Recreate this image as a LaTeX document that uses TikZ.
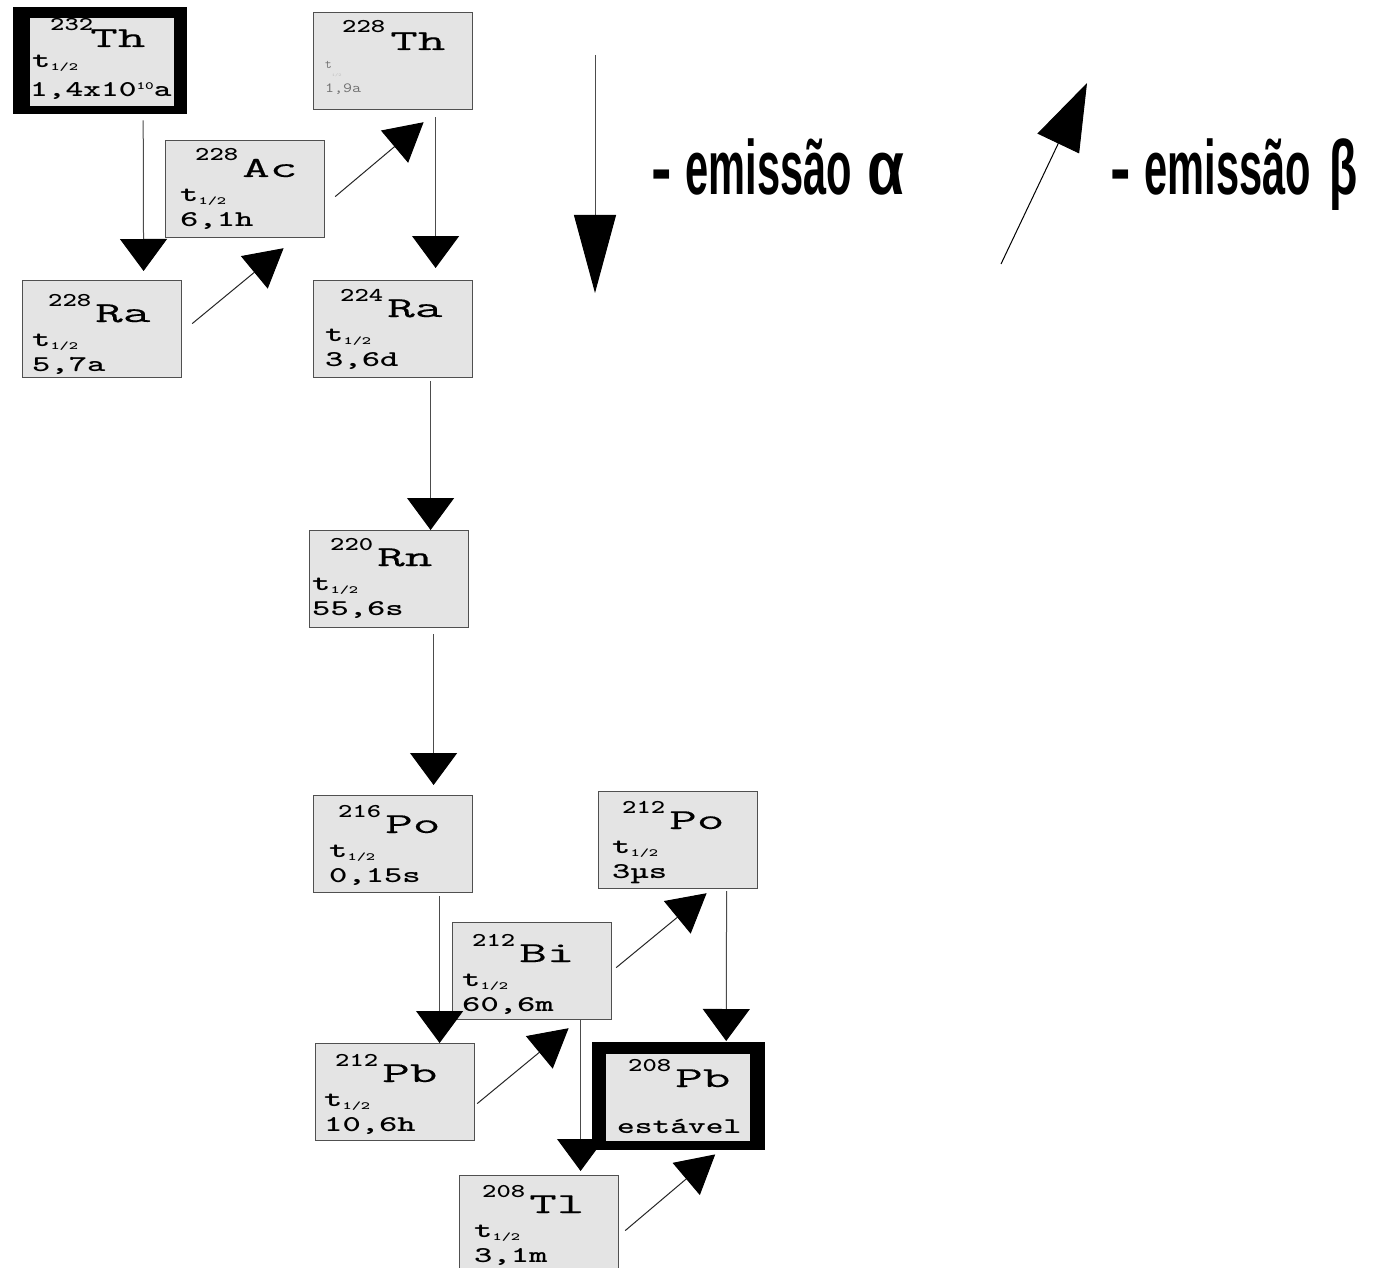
\documentclass[tikz,border=0pt]{standalone}
\usepackage{fontspec}
\usepackage{graphicx}
\usetikzlibrary{arrows.meta,calc}
\newfontfamily\legfont{Liberation Sans}
\newfontfamily\symfam{Latin Modern Mono}[FakeBold=0.25]
\definecolor{boxgray}{HTML}{E4E4E4}
\definecolor{edgegray}{HTML}{505050}
\definecolor{fadegray}{HTML}{707070}
\newcommand\massf{\fontsize{19.5}{19.5}\selectfont\ttfamily\bfseries}
\newcommand\symf{\fontsize{29}{29}\selectfont\symfam}
\newcommand\valf{\fontsize{22.5}{22.5}\selectfont\ttfamily\bfseries}
\newcommand\subf{\fontsize{11}{11}\selectfont\ttfamily\bfseries}
\newcommand\hx[2]{\scalebox{#1}[1]{#2}}
\newcommand\thalf{\hx{1.55}{\valf t}\raisebox{-3pt}{\hx{1.6}{\subf 1/2}}}
% #1 Greek letter, #2 its horizontal scale, #3 gap before it
\newcommand\legtext[3]{\legfont\bfseries\fontsize{77}{77}\selectfont
  \hx{0.8}{-}\kern14pt\hx{0.54}{emissão}\kern#3pt\hx{#2}{#1}}
\tikzset{
  nuc/.style={draw=edgegray, line width=1.2pt, fill=boxgray, inner sep=0pt,
    minimum width=159pt, minimum height=97pt, anchor=north west},
  frame/.style={fill=black, draw=none, inner sep=0pt, anchor=north west},
  txt/.style={inner sep=0pt, anchor=base west},
  alphaarr/.style={draw=black!70, line width=1pt,
    -{Triangle[length=32pt,width=47pt,color=black]}},
  betaarr/.style={draw=black!85, line width=1pt,
    -{Triangle[length=38pt,width=42pt,color=black]}},
}
% #1 name, #2 L, #3 T, #4 mass, #5 symbol, #6 value, #7 mass x, #8 symbol baseline, #9 t x
\newcommand\nuc[9]{%
  \node[nuc] (#1) at (#2,#3) {};
  \begin{scope}[shift={(#2,#3)}]
    \node[txt] (#1m) at (#7,#8-16) {\hx{1.4}{\massf #4}};
    \node[txt] (#1s) at (#7+47,#8) {\hx{1.85}{\symf #5}};
    \node[txt] (#1t) at (#9,#8+24) {\thalf};
    \node[txt] (#1v) at (#9,#8+49) {\hx{1.55}{\valf #6}};
  \end{scope}}
\begin{document}
\begin{tikzpicture}[x=1pt,y=-1pt]
\useasboundingbox[fill=white] (0,0) rectangle (1373,1268);

% ---- 232Th (framed)
\node[frame, minimum width=174pt, minimum height=107pt] (Th232) at (13,7) {};
\node[nuc, draw=none, minimum width=144pt, minimum height=88pt] (Th232in) at (29,17) {};
\node[txt] (Th232m) at (50,31) {\hx{1.4}{\massf 232}};
\node[txt] (Th232s) at (90,47) {\hx{1.85}{\symf Th}};
\node[txt] (Th232t) at (32,68) {\thalf};
\node[txt] (Th232v) at (30,97) {\hx{1.5}{\valf 1,4x10\raisebox{7pt}{\subf 10}a}};

% ---- 228Th (faded half-life)
\node[nuc] (Th228) at (313,12) {};
\node[txt] (Th228m) at (342,33) {\hx{1.4}{\massf 228}};
\node[txt] (Th228s) at (390,50) {\hx{1.85}{\symf Th}};
\node[txt, text=fadegray] (Th228t) at (325,69) {\fontsize{13}{13}\selectfont\ttfamily t\raisebox{-8pt}{\hx{1.5}{\fontsize{4}{4}\selectfont\color{black!25}1/2}}};
\node[txt, text=fadegray] (Th228v) at (325,93) {\hx{1.25}{\fontsize{14}{14}\selectfont\ttfamily 1,9a}};

% ---- other nuclides
\nuc{Ac228}{165}{140}{228}{Ac}{6,1h}{30}{37}{15}
\nuc{Ra228}{22}{280}{228}{Ra}{5,7a}{26}{42}{10}
\nuc{Ra224}{313}{280}{224}{Ra}{3,6d}{27}{37}{12}
\nuc{Rn220}{309}{530}{220}{Rn}{55,6s}{21}{36}{3}
\nuc{Po216}{313}{795}{216}{Po}{0,15s}{25}{38}{16}
\nuc{Po212}{598}{791}{212}{Po}{3\textmu s}{24}{38}{14}
\nuc{Bi212}{452}{922}{212}{Bi}{60,6m}{20}{40}{10}
\nuc{Pb212}{315}{1043}{212}{Pb}{10,6h}{20}{39}{9}
\nuc{Tl208}{459}{1175}{208}{Tl}{3,1m}{23}{38}{15}

% ---- 208Pb (framed, stable)
\node[frame, minimum width=173pt, minimum height=108pt] (Pb208) at (592,1042) {};
\node[nuc, draw=none, minimum width=144pt, minimum height=87pt] (Pb208in) at (605,1053) {};
\node[txt] (Pb208m) at (628,1071) {\hx{1.4}{\massf 208}};
\node[txt] (Pb208s) at (675,1087) {\hx{1.85}{\symf Pb}};
\node[txt] (Pb208v) at (617,1133) {\hx{1.5}{\valf estável}};

% ---- alpha decays
\draw[alphaarr] ($(Th232.south)+(43,6)$) -- ($(Ra228.north)+(41.5,-9)$);
\draw[alphaarr] ($(Th228.south)+(42.5,7)$) -- ($(Ra224.north)+(42.5,-12)$);
\draw[alphaarr] ($(Ra224.south)+(37.5,3)$) -- ($(Rn220.north)+(41.5,0)$);
\draw[alphaarr] ($(Rn220.south)+(44.5,6)$) -- ($(Po216.north)+(40.5,-10)$);
\draw[alphaarr] ($(Po216.south)+(46.5,3)$) -- ($(Pb212.north)+(44.5,0)$);
\draw[alphaarr] ($(Po212.south)+(48.5,2)$) -- ($(Pb208.north)+(47.5,-1)$);
\draw[alphaarr] ($(Bi212.south)+(48.5,0)$) -- ($(Tl208.north)+(41.5,-4)$);

% ---- beta decays
\draw[betaarr] ($(Ra228.east)+(10,-5.5)$) -- ($(Ac228.south)+(38.5,10)$);
\draw[betaarr] ($(Ac228.east)+(10,7.5)$) -- ($(Th228.south)+(30.5,12)$);
\draw[betaarr] ($(Pb212.east)+(2,11.5)$) -- ($(Bi212.south)+(36.5,8)$);
\draw[betaarr] ($(Bi212.east)+(4,-3.5)$) -- ($(Po212.south)+(28.5,4)$);
\draw[betaarr] ($(Tl208.east)+(6,6.5)$) -- ($(Pb208.south)+(36.5,4)$);

% ---- legend
\coordinate (la1) at (595,55);
\coordinate (la2) at (595,293);
\coordinate (lb1) at (1001,264);
\coordinate (lb2) at (1087,83);
\draw[draw=black!70, line width=1pt, -{Triangle[length=78pt,width=42pt,color=black]}] (la1) -- (la2);
\draw[draw=black, line width=1pt, -{Triangle[length=67pt,width=46pt,color=black]}] (lb1) -- (lb2);
\node[txt] (legA) at (651,195) {\legtext{α}{0.78}{15}};
\node[txt] (legB) at (1110,195) {\legtext{β}{0.6}{18}};
\end{tikzpicture}
\end{document}
